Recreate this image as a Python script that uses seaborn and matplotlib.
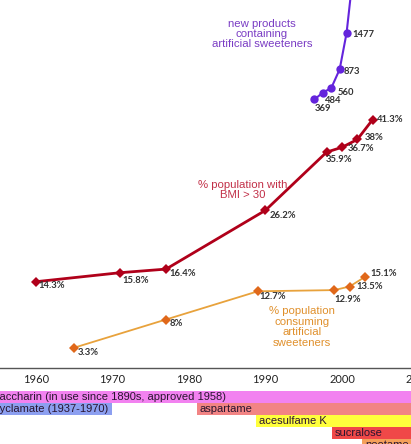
import numpy as np
import pandas as pd
import matplotlib
matplotlib.use("Agg")
import matplotlib.pyplot as plt
import seaborn as sns

# ---- data ----
obesity_years = [1960, 1971, 1977, 1990, 1998, 2000, 2002, 2004]
obesity_pct = [14.3, 15.8, 16.4, 26.2, 35.9, 36.7, 38.0, 41.3]

sweet_years = [1965, 1977, 1989, 1999, 2001, 2003]
sweet_pct = [3.3, 8.0, 12.7, 12.9, 13.5, 15.1]

product_years = [1996.4, 1997.5, 1998.6, 1999.7, 2000.6, 2001.4]
product_counts = [369, 484, 560, 873, 1477, 2400]   # last point runs off the top
product_labels = ["369", "484", "560", "873", "1477", None]

tick_years = [1960, 1970, 1980, 1990, 2000, 2010]

sweeteners = ["saccharin (in use since 1890s, approved 1958)", "cyclamate (1937-1970)",
              "aspartame", "acesulfame K", "sucralose", "neotame"]
sweet_start = [1890, 1937, 1981, 1988.8, 1998.7, 2002.6]
sweet_end = [2015, 1970, 2015, 2015, 2015, 2015]

# ---- styling ----
sns.set_style("white")
plt.rcParams['font.family'] = ['Liberation Sans', 'DejaVu Sans']

c_prod, c_prod_txt = '#6424dc', '#7a3cc4'
c_obe, c_obe_txt = '#b0001a', '#c23048'
c_sw_line, c_sw_mark, c_sw_txt = '#e8a23c', '#e0681a', '#e0902c'
c_lbl = '#333333'
bar_colors = ['#f282f0', '#8c9ff0', '#f28484', '#ffff3c', '#f04848', '#f5a05a']
bar_rows = [0, 1, 1, 2, 3, 4]

W, H = 411, 444
fig = plt.figure(figsize=(W / 100, H / 100), dpi=100)
xlim = (1955.3, 2010.5)

ax = fig.add_axes([0, 76.5 / H, 1.0275, 367.5 / H])
ax.set_xlim(*xlim)
ax.set_ylim(0, 61.25)

sns.lineplot(x=obesity_years, y=obesity_pct, ax=ax, color=c_obe, lw=2,
             marker='D', markersize=5, markeredgewidth=0, markerfacecolor=c_obe)
sns.lineplot(x=sweet_years, y=sweet_pct, ax=ax, color=c_sw_line, lw=1.3,
             marker='D', markersize=5, markeredgewidth=0, markerfacecolor=c_sw_mark)

ax2 = ax.twinx()
ax2.set_ylim(-4107, 2030)
sns.lineplot(x=product_years, y=product_counts, ax=ax2, color=c_prod, lw=1.5,
             marker='o', markersize=6, markeredgewidth=0)

# value labels
lbl_font = dict(fontsize=6.8, color=c_lbl, family=['Lato', 'DejaVu Sans'], fontweight='bold',
                va='center', ha='left', textcoords='offset pixels')
obe_off = [(2, -4), (2, -8), (3, -4), (4, -5), (-1, -7), (6, -1), (7, 2), (4, 0)]
for x, y, o in zip(obesity_years, obesity_pct, obe_off):
    ax.annotate(f"{y:g}%", (x, y), xytext=o, **lbl_font)
sw_off = [(4, -5), (4, -4), (2, -5), (0, -9), (7, 0), (5, 3)]
for x, y, o in zip(sweet_years, sweet_pct, sw_off):
    ax.annotate(f"{y:g}%", (x, y), xytext=o, **lbl_font)
prod_off = [(0, -9), (2, -8), (6, -4), (4, -2), (6, -1)]
for x, y, t, o in zip(product_years, product_counts, product_labels, prod_off):
    if t:
        ax2.annotate(t, (x, y), xytext=o, **lbl_font)

# series names
fig.text(262 / W, 1 - 34 / H, "new products\ncontaining\nartificial sweeteners",
         color=c_prod_txt, fontsize=8.2, ha='center', va='center', linespacing=1.05)
fig.text(243 / W, 1 - 190 / H, "% population with\nBMI > 30",
         color=c_obe_txt, fontsize=8.2, ha='center', va='center', linespacing=1.05)
fig.text(302 / W, 1 - 327 / H, "% population\nconsuming\nartificial\nsweeteners",
         color=c_sw_txt, fontsize=8.2, ha='center', va='center', linespacing=1.05)

# axes look
for s in ['left', 'right', 'top']:
    ax.spines[s].set_visible(False)
    ax2.spines[s].set_visible(False)
ax2.spines['bottom'].set_visible(False)
ax.spines['bottom'].set_color('#555555')
ax.spines['bottom'].set_linewidth(1.0)
ax.set_yticks([])
ax2.set_yticks([])
ax.set_xticks(tick_years)
ax.set_xticklabels([str(t) for t in tick_years], fontsize=8, family=['Lato', 'DejaVu Sans'],
                   color='#222222')
ax.tick_params(axis='x', direction='in', length=5, width=1, color='#555555', pad=5)
ax.set_xlabel("")
ax.set_ylabel("")
ax2.set_ylabel("")
ax.patch.set_alpha(0)

# sweetener approval timeline
axt = fig.add_axes([0, (H - 451) / H, 1.0275, 60 / H])
axt.set_xlim(*xlim)
axt.set_ylim(4.5, -0.5)
axt.axis('off')
axt.barh(bar_rows, [e - s for s, e in zip(sweet_start, sweet_end)], left=sweet_start,
         height=0.92, color=bar_colors, linewidth=0)
for name, s, r in zip(sweeteners, sweet_start, bar_rows):
    if s < xlim[0]:
        axt.text(xlim[0] - 0.75, r, name, fontsize=8, va='center', ha='left', color='#2a1530')
    else:
        axt.annotate(name, (s, r), xytext=(3, 0), textcoords='offset pixels',
                     fontsize=8, va='center', ha='left', color='#2a1530')

fig.savefig("out.png", dpi=100)
